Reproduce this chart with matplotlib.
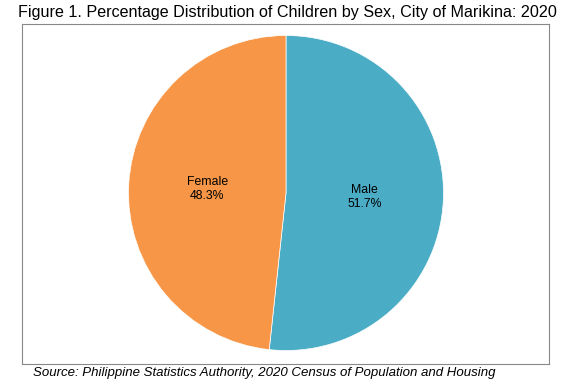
import matplotlib.pyplot as plt

plt.rcParams['font.family'] = ['Liberation Sans', 'DejaVu Sans']

labels = ['Male', 'Female']
shares = [51.7, 48.3]
colors = ['#4BACC6', '#F79646']

fig = plt.figure(figsize=(5.61, 3.86), dpi=100)
# axes box matches the grey frame of the reference (pixel units)
ax = fig.add_axes([22/561, 1-364/386, 527/561, 340/386])

ax.pie(shares, colors=colors, startangle=90, counterclock=False,
       labels=[f'{l}\n{v}%' for l, v in zip(labels, shares)],
       labeldistance=0.5, center=(264, 171), radius=157.5, frame=True,
       textprops={'fontsize': 8.8, 'ha': 'center', 'va': 'center'},
       wedgeprops={'linewidth': 0.5, 'edgecolor': 'white'})
ax.set_xlim(0, 527)
ax.set_ylim(0, 340)
ax.set_xticks([])
ax.set_yticks([])
for s in ax.spines.values():
    s.set_color('#888888')
    s.set_linewidth(0.8)

fig.text(287/561, 1-12/386, 'Figure 1. Percentage Distribution of Children by Sex, City of Marikina: 2020',
         ha='center', va='center', fontsize=11.6)
fig.text(33/561, 1-373/386, 'Source: Philippine Statistics Authority, 2020 Census of Population and Housing',
         ha='left', va='center', fontsize=9.5, style='italic')

fig.savefig('out.png', dpi=100)
